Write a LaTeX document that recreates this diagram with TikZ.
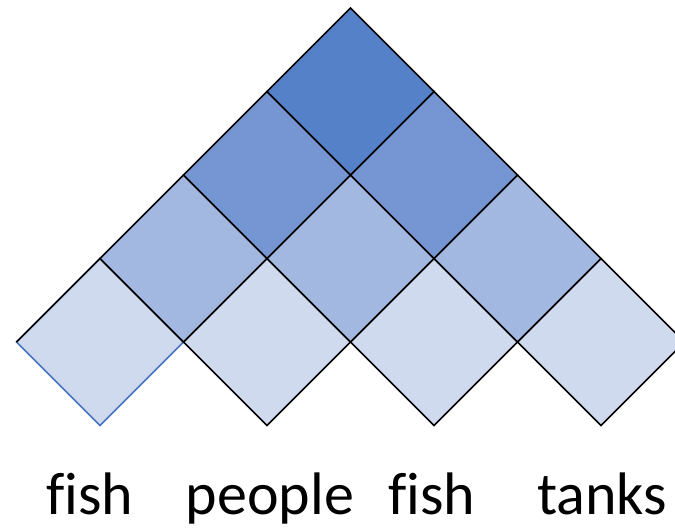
\documentclass[tikz,border=0pt]{standalone}
\usepackage{fontspec}
\setmainfont{Carlito}[Ligatures=NoCommon]
\usetikzlibrary{shapes.geometric}
\definecolor{cA}{HTML}{CFDAEF}
\definecolor{cB}{HTML}{A2B8E1}
\definecolor{cC}{HTML}{7596D3}
\definecolor{cD}{HTML}{5581C9}
\definecolor{edgeblue}{HTML}{4472C4}
\tikzset{
  cell/.style={diamond, aspect=1, minimum width=167pt, minimum height=167pt,
    inner sep=0pt, outer sep=0pt, draw=black, line width=1.7pt},
  word/.style={anchor=base, font=\fontsize{60}{62}\selectfont, inner sep=0pt}
}
\begin{document}
\begin{tikzpicture}[x=1pt,y=-1pt]
\useasboundingbox (0,0) rectangle (675,528);
% bottom row
\node[cell, fill=cA, draw=edgeblue] (a1) at (100,342) {};
\node[cell, fill=cA] (a2) at (267,342) {};
\node[cell, fill=cA] (a3) at (434,342) {};
\node[cell, fill=cA] (a4) at (601,342) {};
\draw[line width=1.7pt] (a1.west) -- (a1.north) -- (a1.east);
% second row
\node[cell, fill=cB] (b1) at (183.5,258.5) {};
\node[cell, fill=cB] (b2) at (350.5,258.5) {};
\node[cell, fill=cB] (b3) at (517.5,258.5) {};
% third row
\node[cell, fill=cC] (c1) at (267,175) {};
\node[cell, fill=cC] (c2) at (434,175) {};
% top
\node[cell, fill=cD] (d1) at (350.5,91.5) {};
% words
\node[word] (w1) at (90,514) {fish};
\node[word] (w2) at (270,514) {people};
\node[word] (w3) at (432,514) {fish};
\node[word] (w4) at (602,514) {tanks};
\end{tikzpicture}
\end{document}
